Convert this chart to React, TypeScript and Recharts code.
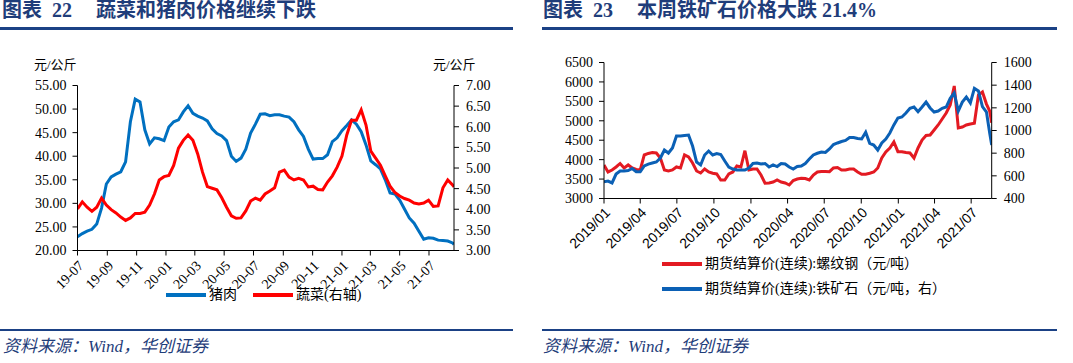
import React from 'react';
import { LineChart, Line, XAxis, YAxis } from 'recharts';

// ---------- Left chart (图表 22) ----------
const leftTickLabels = ['19-07', '19-09', '19-11', '20-01', '20-03', '20-05', '20-07', '20-09', '20-11', '21-01', '21-03', '21-05', '21-07'];
const leftEndDay = 783; // days after 2019-07-01
const porkPrices = [
  22.9, 23.6, 24.1, 24.5, 25.6, 29.0, 34.1, 35.6, 36.2, 36.7,
  38.8, 47.3, 52.1, 51.5, 45.6, 42.6, 43.9, 43.7, 43.3, 46.2,
  47.3, 47.7, 49.4, 50.7, 49.1, 48.5, 48.1, 47.5, 45.8, 44.8,
  44.3, 43.3, 40.0, 38.9, 39.6, 41.5, 44.9, 46.8, 48.9, 49.0,
  48.6, 48.8, 48.8, 48.5, 48.3, 47.3, 45.6, 44.2, 41.5, 39.4,
  39.5, 39.5, 40.3, 43.1, 43.9, 45.4, 46.5, 47.7, 46.8, 45.2,
  42.4, 39.0, 38.2, 37.3, 35.0, 32.2, 32.0, 30.7, 28.8, 26.9,
  25.8, 24.1, 22.4, 22.7, 22.6, 22.2, 22.1, 22.0, 21.6,
  21.3,
];
const vegPrices = [
  4.01, 4.18, 4.05, 3.95, 4.05, 4.27, 4.10, 3.99, 3.91, 3.81,
  3.73, 3.79, 3.90, 3.90, 3.93, 4.10, 4.37, 4.71, 4.79, 4.82,
  5.06, 5.48, 5.67, 5.80, 5.67, 5.34, 4.90, 4.55, 4.51, 4.47,
  4.28, 4.05, 3.84, 3.78, 3.79, 3.96, 4.20, 4.27, 4.22, 4.37,
  4.44, 4.52, 4.90, 4.95, 4.78, 4.71, 4.75, 4.71, 4.54, 4.56,
  4.48, 4.47, 4.66, 4.81, 5.02, 5.29, 5.80, 6.16, 6.16, 6.41,
  6.04, 5.41, 5.24, 5.07, 4.81, 4.56, 4.41, 4.32, 4.26, 4.22,
  4.15, 4.13, 4.15, 4.22, 4.07, 4.08, 4.52, 4.71, 4.59,
  4.54,
];
const leftTicksL = [20, 25, 30, 35, 40, 45, 50, 55];
const leftTicksR = [3, 3.5, 4, 4.5, 5, 5.5, 6, 6.5, 7];

// ---------- Right chart (图表 23) ----------
const rightTickLabels = ['2019/01', '2019/04', '2019/07', '2019/10', '2020/01', '2020/04', '2020/07', '2020/10', '2021/01', '2021/04', '2021/07'];
const rightExtraDays = [958, 963]; // days after 2019-01-01 for the last two samples
const rightEndDay = 963;
const rebarPrices = [
  3863, 3683, 3734, 3811, 3901, 3786, 3863, 3786, 3747, 3734,
  4120, 4159, 4184, 4171, 4043, 3734, 3708, 3734, 3811, 3786,
  4120, 4069, 3914, 3708, 3657, 3760, 3683, 3649, 3631, 3477,
  3477, 3631, 3683, 3837, 3811, 4230, 3734, 3760, 3760, 3605,
  3392, 3400, 3425, 3477, 3425, 3400, 3348, 3464, 3502, 3520,
  3515, 3477, 3605, 3683, 3695, 3695, 3690, 3786, 3798, 3734,
  3734, 3760, 3760, 3683, 3623, 3623, 3649, 3683, 3786, 4043,
  4197, 4300, 4454, 4205, 4205, 4184, 4171, 4043, 4300, 4506,
  4622, 4635, 4763, 4892, 5046, 5201, 5406, 5895, 4815, 4840,
  4892, 4918, 4936, 5664, 5741, 5430,
  5250, 4950,
];
const ironOrePrices = [
  548, 554, 537, 616, 643, 643, 647, 665, 636, 636,
  687, 704, 713, 722, 757, 828, 801, 846, 951, 951,
  956, 960, 863, 722, 696, 784, 819, 784, 797, 788,
  731, 678, 660, 651, 651, 651, 669, 709, 713, 704,
  709, 678, 696, 682, 709, 704, 678, 660, 682, 687,
  709, 748, 784, 799, 810, 806, 837, 876, 890, 903,
  912, 938, 938, 929, 925, 984, 887, 872, 828, 890,
  925, 978, 1049, 1110, 1119, 1154, 1196, 1207, 1166, 1207,
  1251, 1199, 1163, 1172, 1196, 1207, 1284, 1331, 1172, 1251,
  1296, 1243, 1371, 1349, 1210, 1163,
  978, 872,
];
const rightTicksL = [3000, 3500, 4000, 4500, 5000, 5500, 6000, 6500];
const rightTicksR = [400, 600, 800, 1000, 1200, 1400, 1600];

// ---------- helpers ----------
const DAY = 86400000;
const leftStart = Date.UTC(2019, 6, 1);
const rightStart = Date.UTC(2019, 0, 1);
const leftTickDays = leftTickLabels.map((s) => {
  const [yy, mm] = s.split('-').map(Number);
  return Math.round((Date.UTC(2000 + yy, mm - 1, 1) - leftStart) / DAY);
});
const rightTickDays = rightTickLabels.map((s) => {
  const [yy, mm] = s.split('/').map(Number);
  return Math.round((Date.UTC(yy, mm - 1, 1) - rightStart) / DAY);
});

const leftData = porkPrices.map((p, i) => ({
  d: i < porkPrices.length - 1 ? i * 10 : leftEndDay,
  pork: p,
  veg: vegPrices[i],
}));
const nRegular = rebarPrices.length - rightExtraDays.length;
const rightData = rebarPrices.map((r, i) => ({
  d: i < nRegular ? i * 10 : rightExtraDays[i - nRegular],
  rebar: r,
  ore: ironOrePrices[i],
}));

const SERIF = '"Liberation Serif", "Times New Roman", "Noto Sans CJK SC", serif';
const SANS = '"Liberation Sans", Arial, "Noto Sans CJK SC", sans-serif';
const NAVY = '#1F3D7A';
const RULE = '#1B4185';

const abs = (x: number, y: number, extra: React.CSSProperties = {}): React.CSSProperties => ({
  position: 'absolute',
  left: x,
  top: y,
  whiteSpace: 'nowrap',
  ...extra,
});

function Title({ x, num, text }: { x: number; num: string; text: string }) {
  const base: React.CSSProperties = { fontWeight: 'bold', fontSize: 20, lineHeight: '20px', color: NAVY, fontFamily: SERIF };
  return (
    <>
      <div style={abs(x, 0, base)}>图表</div>
      <div style={abs(x + 50, 0, base)}>{num}</div>
      <div style={abs(x + 94, 0, { ...base, letterSpacing: 0 })}>{text}</div>
    </>
  );
}

function Source({ x }: { x: number }) {
  return (
    <div style={abs(x, 338, { fontSize: 17, lineHeight: '18px', fontStyle: 'italic', color: NAVY, fontFamily: SERIF })}>
      资料来源：Wind，华创证券
    </div>
  );
}

function LegendItem({ x, y, color, label }: { x: number; y: number; color: string; label: string }) {
  return (
    <>
      <div style={abs(x, y - 2, { width: 40, height: 4, background: color })} />
      <div style={abs(x + 43, y - 8, { fontSize: 14, lineHeight: '16px', color: '#000', fontFamily: SERIF })}>{label}</div>
    </>
  );
}

const axisStroke = { stroke: '#000', strokeWidth: 1 };

export default function App() {
  return (
    <div style={{ position: 'absolute', left: 0, top: 0, width: 1073, height: 363, background: '#fff', overflow: 'hidden' }}>
      {/* Left panel */}
      <Title x={2} num="22" text="蔬菜和猪肉价格继续下跌" />
      <div style={abs(0, 27, { width: 513, height: 2.5, background: RULE })} />
      <div style={abs(34, 58, { fontSize: 13, lineHeight: '14px', fontFamily: SERIF })}>元/公斤</div>
      <div style={abs(433, 58, { fontSize: 13, lineHeight: '14px', fontFamily: SERIF })}>元/公斤</div>
      <div style={abs(0, 0)}>
        <LineChart width={520} height={363} data={leftData} margin={{ top: 85.5, right: 6, bottom: 72.5, left: 0 }}>
          <XAxis
            dataKey="d"
            type="number"
            domain={[0, leftEndDay]}
            ticks={leftTickDays}
            interval={0}
            allowDataOverflow
            tickFormatter={(v: number) => leftTickLabels[leftTickDays.indexOf(v)] ?? ''}
            tick={{ angle: -45, textAnchor: 'end', fontSize: 14, fill: '#000', fontFamily: SERIF }}
            tickSize={5}
            tickMargin={4}
            height={40}
            axisLine={axisStroke}
            tickLine={axisStroke}
          />
          <YAxis
            yAxisId="l"
            domain={[20, 55]}
            ticks={leftTicksL}
            interval={0}
            tickFormatter={(v: number) => v.toFixed(2)}
            width={77.5}
            tickSize={5}
            tickMargin={6}
            tick={{ fontSize: 14, fill: '#000', fontFamily: SERIF }}
            axisLine={axisStroke}
            tickLine={axisStroke}
          />
          <YAxis
            yAxisId="r"
            orientation="right"
            domain={[3, 7]}
            ticks={leftTicksR}
            interval={0}
            tickFormatter={(v: number) => v.toFixed(2)}
            width={60}
            tickSize={5}
            tickMargin={7}
            tick={{ fontSize: 14, fill: '#000', fontFamily: SERIF }}
            axisLine={axisStroke}
            tickLine={axisStroke}
          />
          <Line yAxisId="l" type="linear" dataKey="pork" stroke="#0070C0" strokeWidth={3} dot={false} isAnimationActive={false} />
          <Line yAxisId="r" type="linear" dataKey="veg" stroke="#FF0000" strokeWidth={3} dot={false} isAnimationActive={false} />
        </LineChart>
      </div>
      <LegendItem x={166} y={295} color="#0070C0" label="猪肉" />
      <LegendItem x={253} y={295} color="#FF0000" label="蔬菜(右轴)" />
      <div style={abs(0, 329, { width: 513, height: 2, background: RULE })} />
      <Source x={3} />

      {/* Right panel */}
      <Title x={543} num="23" text="本周铁矿石价格大跌 21.4%" />
      <div style={abs(542, 27, { width: 515, height: 2.5, background: RULE })} />
      <div style={abs(535, 0)}>
        <LineChart width={538} height={363} data={rightData} margin={{ top: 62.5, right: 21.3, bottom: 114.5, left: 0 }}>
          <XAxis
            dataKey="d"
            type="number"
            domain={[0, rightEndDay]}
            ticks={rightTickDays}
            interval={0}
            allowDataOverflow
            tickFormatter={(v: number) => rightTickLabels[rightTickDays.indexOf(v)] ?? ''}
            tick={{ angle: -45, textAnchor: 'end', fontSize: 14, fill: '#000', fontFamily: SANS }}
            tickSize={5}
            tickMargin={3}
            height={50}
            axisLine={axisStroke}
            tickLine={axisStroke}
          />
          <YAxis
            yAxisId="l"
            domain={[3000, 6500]}
            ticks={rightTicksL}
            interval={0}
            width={69}
            tickSize={5}
            tickMargin={6}
            tick={{ fontSize: 14, fill: '#000', fontFamily: SERIF }}
            axisLine={axisStroke}
            tickLine={axisStroke}
          />
          <YAxis
            yAxisId="r"
            orientation="right"
            domain={[400, 1600]}
            ticks={rightTicksR}
            interval={0}
            width={60}
            tickSize={5}
            tickMargin={7}
            tick={{ fontSize: 14, fill: '#000', fontFamily: SERIF }}
            axisLine={axisStroke}
            tickLine={axisStroke}
          />
          <Line yAxisId="l" type="linear" dataKey="rebar" stroke="#E31A22" strokeWidth={3} dot={false} isAnimationActive={false} />
          <Line yAxisId="r" type="linear" dataKey="ore" stroke="#0B60B5" strokeWidth={3} dot={false} isAnimationActive={false} />
        </LineChart>
      </div>
      <LegendItem x={662} y={264} color="#E31A22" label="期货结算价(连续):螺纹钢（元/吨）" />
      <LegendItem x={662} y={289} color="#0B60B5" label="期货结算价(连续):铁矿石（元/吨，右）" />
      <div style={abs(542, 329, { width: 515, height: 2, background: RULE })} />
      <Source x={543} />
    </div>
  );
}
